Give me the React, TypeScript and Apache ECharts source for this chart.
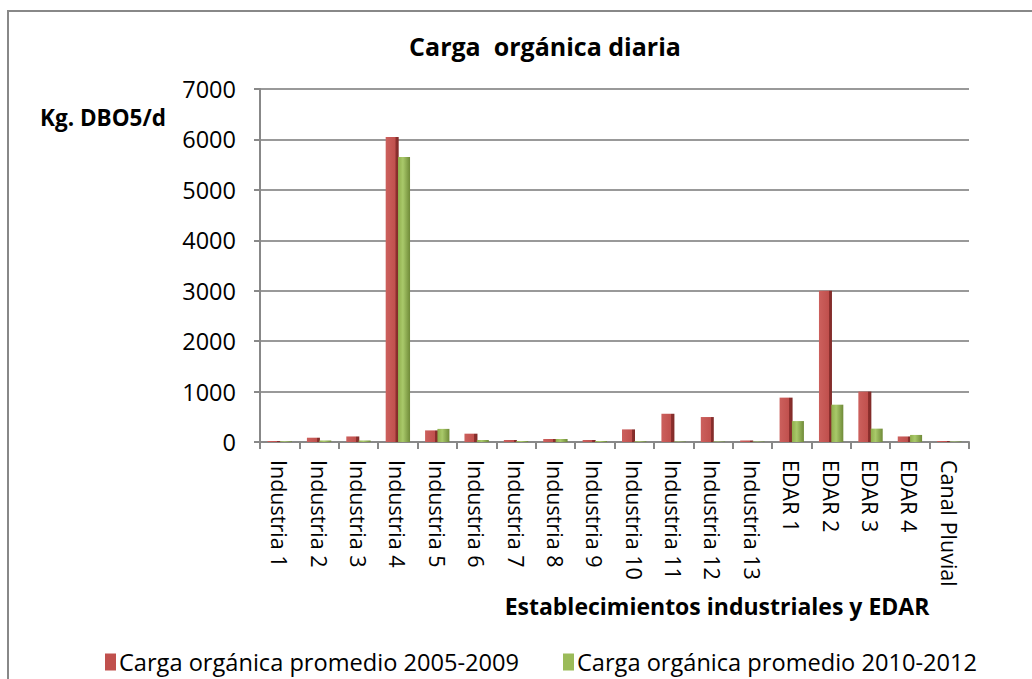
import React, { useEffect, useRef } from "react";
import * as echarts from "echarts";

const categories = [
  "Industria 1", "Industria 2", "Industria 3", "Industria 4", "Industria 5",
  "Industria 6", "Industria 7", "Industria 8", "Industria 9", "Industria 10",
  "Industria 11", "Industria 12", "Industria 13", "EDAR 1", "EDAR 2",
  "EDAR 3", "EDAR 4", "Canal Pluvial",
];
const serie2005 = [20, 85, 110, 6050, 230, 165, 40, 60, 40, 250, 560, 495, 30, 880, 3000, 1000, 110, 20];
const serie2010 = [15, 30, 30, 5650, 260, 40, 20, 60, 20, 15, 10, 10, 10, 415, 740, 265, 140, 10];
const seriesNames = ["Carga orgánica promedio 2005-2009", "Carga orgánica promedio 2010-2012"];
const titleText = "Carga  orgánica diaria";
const yName = "Kg. DBO5/d";
const xName = "Establecimientos industriales y EDAR";

const FONT = "'Open Sans', 'Noto Sans', sans-serif";

export default function App() {
  const ref = useRef<HTMLDivElement>(null);
  useEffect(() => {
    document.body.style.margin = "0";
    if (!ref.current) return;
    const chart = echarts.init(ref.current, undefined, { renderer: "svg" });
    const red = new echarts.graphic.LinearGradient(0, 0, 1, 0, [
      { offset: 0, color: "#cc605d" },
      { offset: 0.75, color: "#c0504d" },
      { offset: 0.76, color: "#8e302e" },
      { offset: 1, color: "#7f2a28" },
    ]);
    const green = new echarts.graphic.LinearGradient(0, 0, 1, 0, [
      { offset: 0, color: "#8fae4c" },
      { offset: 0.4, color: "#a9c96a" },
      { offset: 1, color: "#6f8a38" },
    ]);
    chart.setOption({
      animation: false,
      textStyle: { fontFamily: FONT },
      title: {
        text: titleText,
        left: 540,
        top: 28,
        textAlign: "center",
        textStyle: { fontFamily: FONT, fontSize: 25, fontWeight: "bold", color: "#000" },
      },
      graphic: [
        {
          type: "rect",
          shape: { x: 8, y: 11, width: 1200, height: 900 },
          style: { fill: "none", stroke: "#888", lineWidth: 2 },
          silent: true,
        },
        {
          type: "text",
          x: 40,
          y: 117,
          style: {
            text: yName,
            fontFamily: FONT,
            fontSize: 22.5,
            fontWeight: "bold",
            fill: "#000",
            verticalAlign: "middle",
          },
        },
        {
          type: "text",
          x: 717,
          y: 606,
          style: {
            text: xName,
            fontFamily: FONT,
            fontSize: 23,
            fontWeight: "bold",
            fill: "#000",
            align: "center",
            verticalAlign: "middle",
          },
        },
      ],
      legend: {
        left: 100,
        top: 645,
        itemWidth: 11,
        itemHeight: 17,
        itemGap: 44,
        icon: "rect",
        textStyle: { fontFamily: FONT, fontSize: 23.6, color: "#000", padding: [0, 0, 0, -2] },
        data: [
          { name: seriesNames[0], itemStyle: { color: "#c0504d" } },
          { name: seriesNames[1], itemStyle: { color: "#9bbb59" } },
        ],
      },
      grid: { left: 260, right: 63, top: 89, bottom: 237 },
      xAxis: {
        type: "category",
        data: categories,
        axisLine: { lineStyle: { color: "#888", width: 2 } },
        axisTick: { show: true, length: 7, lineStyle: { color: "#888", width: 2 } },
        axisLabel: {
          interval: 0,
          rotate: -90,
          margin: 18,
          fontFamily: FONT,
          fontSize: 21.5,
          color: "#000",
        },
      },
      yAxis: {
        type: "value",
        min: 0,
        max: 7000,
        interval: 1000,
        axisLine: { show: true, lineStyle: { color: "#888", width: 2 } },
        axisTick: { show: true, length: 6, lineStyle: { color: "#888", width: 2 } },
        axisLabel: {
          margin: 24,
          fontFamily: FONT,
          fontSize: 23.5,
          color: "#000",
          formatter: (v: number) => String(v),
        },
        splitLine: { lineStyle: { color: "#999", width: 2 } },
      },
      series: [
        {
          name: seriesNames[0],
          type: "bar",
          data: serie2005,
          barWidth: 13,
          barGap: "-5%",
          itemStyle: { color: red },
        },
        {
          name: seriesNames[1],
          type: "bar",
          data: serie2010,
          barWidth: 12,
          itemStyle: { color: green },
        },
      ],
    });
    return () => chart.dispose();
  }, []);
  return <div ref={ref} style={{ width: 1032, height: 679 }} />;
}
